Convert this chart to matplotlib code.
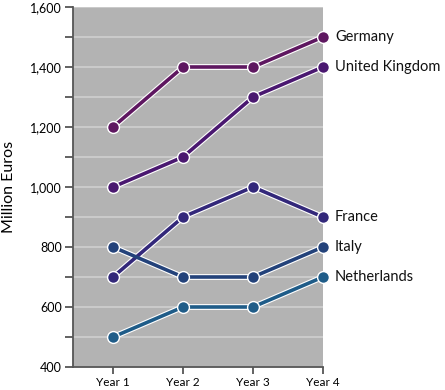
import matplotlib.pyplot as plt
from matplotlib.ticker import FuncFormatter, MultipleLocator

years = ["Year 1", "Year 2", "Year 3", "Year 4"]
countries = ["Germany", "United Kingdom", "France", "Italy", "Netherlands"]
germany = [1200, 1400, 1400, 1500]
uk = [1000, 1100, 1300, 1400]
france = [700, 900, 1000, 900]
italy = [800, 700, 700, 800]
netherlands = [500, 600, 600, 700]
colors = ["#5e1760", "#4a1870", "#33287a", "#23427a", "#1f5c88"]

plt.rcParams['font.family'] = ['Lato', 'DejaVu Sans']

fig = plt.figure(figsize=(4.45, 3.9), dpi=100)
ax = fig.add_axes([73 / 445, 23 / 390, 250 / 445, 360 / 390])
ax.set_facecolor("#b3b3b3")

x = list(range(len(years)))
series = [germany, uk, france, italy, netherlands]
for name, vals, c in zip(countries, series, colors):
	ax.plot(x, vals, color="white", lw=4.2, zorder=3, solid_capstyle="round")
	ax.plot(x, vals, color=c, lw=2.6, zorder=4, marker="o", ms=8.5,
		markeredgecolor="white", markeredgewidth=1.0, clip_on=False)
	ax.text(3 + 0.17, vals[-1], name, va="center", ha="left", fontsize=10.5,
		color="#111111", clip_on=False)

ax.set_xlim(-40 / 70, 3)
ax.set_ylim(400, 1600)
ax.set_xticks(x)
ax.set_xticklabels(years, fontsize=8.5)
ax.yaxis.set_major_locator(MultipleLocator(200))
ax.yaxis.set_minor_locator(MultipleLocator(100))
ax.yaxis.set_major_formatter(FuncFormatter(lambda v, p: f"{int(v):,}"))
ax.tick_params(axis="y", labelsize=9, length=6, width=1.3, color="#555555", pad=2)
ax.tick_params(axis="y", which="minor", length=6, width=1.3, color="#555555")
ax.tick_params(axis="x", length=5, width=1.3, color="#555555", pad=2)
ax.grid(True, axis="y", which="both", color="#cfcfcf", lw=1.2, zorder=1)
ax.set_axisbelow(True)

for s in ["top", "right"]:
	ax.spines[s].set_visible(False)
for s in ["left", "bottom"]:
	ax.spines[s].set_color("#555555")
	ax.spines[s].set_linewidth(1.3)

ax.set_ylabel("Million Euros", fontsize=11.5, labelpad=10)

fig.savefig("out.png", dpi=100)
